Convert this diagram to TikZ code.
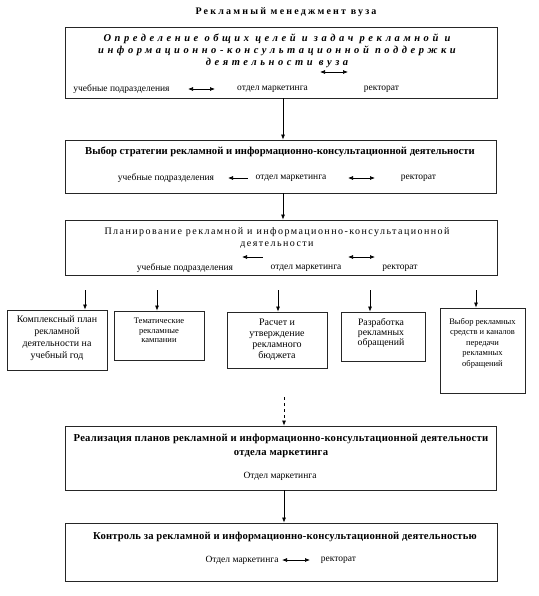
\documentclass[tikz,border=0pt]{standalone}
\usepackage{fontspec}
\setmainfont{Liberation Serif}
\usetikzlibrary{arrows.meta}
\begin{document}
\begin{tikzpicture}[x=1pt,y=-1pt,
  bigbox/.style={draw=black!85,line width=0.8pt,inner sep=0pt},
  smallbox/.style={draw=black!85,line width=0.8pt,inner sep=0pt},
  lbl/.style={inner sep=0pt,font=\fontsize{9.5}{11}\selectfont},
  stxt/.style={inner sep=0pt,align=center,anchor=north},
  btitle/.style={inner sep=0pt,align=center,font=\fontsize{10.65}{14}\selectfont\bfseries},
  arr/.style={-{Latex[length=5pt,width=4pt]},line width=0.7pt},
  darr/.style={{Latex[length=5pt,width=4pt]}-{Latex[length=5pt,width=4pt]},line width=0.7pt},
  larr/.style={{Latex[length=5pt,width=4pt]}-,line width=0.7pt}]
\useasboundingbox (0,0) rectangle (538,596);

% title
\node[inner sep=0pt,font=\fontsize{10}{12}\selectfont\bfseries\addfontfeatures{LetterSpace=22}] (title) at (286,12) {Рекламный менеджмент вуза};

% box 1
\node[bigbox,minimum width=432pt,minimum height=71pt] (b1) at (281,62.5) {};
\node[inner sep=0pt,align=center,font=\fontsize{10.5}{12}\selectfont\bfseries\itshape\addfontfeatures{LetterSpace=34}] (b1t) at (277,51) {Определение общих целей и задач рекламной и\\информационно-консультационной поддержки\\деятельности вуза};
\node[lbl] (b1l1) at (121.5,89) {учебные подразделения};
\node[lbl] (b1l2) at (272.5,89) {отдел маркетинга};
\node[lbl] (b1l3) at (381.5,89) {ректорат};
\coordinate (b1aa) at (320,72); \coordinate (b1ab) at (348,72);
\coordinate (b1ba) at (188,89); \coordinate (b1bb) at (215,89);
\draw[darr] (b1aa) -- (b1ab);
\draw[darr] (b1ba) -- (b1bb);

% box 2
\node[bigbox,minimum width=431pt,minimum height=53pt] (b2) at (280.5,166.5) {};
\node[btitle] (b2t) at (280,152) {Выбор стратегии рекламной и информационно-консультационной деятельности};
\node[lbl] (b2l1) at (166,178) {учебные подразделения};
\node[lbl] (b2l2) at (291,178) {отдел маркетинга};
\node[lbl] (b2l3) at (418.5,178) {ректорат};
\coordinate (b2aa) at (228,178); \coordinate (b2ab) at (248,178);
\coordinate (b2ba) at (348,178); \coordinate (b2bb) at (375,178);
\draw[larr] (b2aa) -- (b2ab);
\draw[darr] (b2ba) -- (b2bb);

% box 3
\node[bigbox,minimum width=432pt,minimum height=55pt] (b3) at (281,247.5) {};
\node[inner sep=0pt,align=center,font=\fontsize{10}{12}\selectfont\addfontfeatures{LetterSpace=14.5}] (b3t) at (277,238) {Планирование рекламной и информационно-консультационной\\деятельности};
\node[lbl] (b3l1) at (185,268) {учебные подразделения};
\node[lbl] (b3l2) at (306,268) {отдел маркетинга};
\node[lbl] (b3l3) at (400,268) {ректорат};
\coordinate (b3aa) at (242,257); \coordinate (b3ab) at (263,257);
\coordinate (b3ba) at (348,257); \coordinate (b3bb) at (375,257);
\draw[larr] (b3aa) -- (b3ab);
\draw[darr] (b3ba) -- (b3bb);

% small boxes
\node[smallbox,minimum width=100pt,minimum height=60pt] (sa) at (57,340) {};
\node[smallbox,minimum width=90pt,minimum height=49pt] (sb) at (159,335.5) {};
\node[smallbox,minimum width=100pt,minimum height=56pt] (sc) at (277,340) {};
\node[smallbox,minimum width=84pt,minimum height=49pt] (sd) at (383,336.5) {};
\node[smallbox,minimum width=85pt,minimum height=85pt] (se) at (482.5,350.5) {};
\node[stxt,font=\fontsize{9.9}{12}\selectfont] (sat) at (57,316) {Комплексный план\\рекламной\\деятельности на\\учебный год};
\node[stxt,font=\fontsize{8.5}{9.5}\selectfont] (sbt) at (159,318) {Тематические\\рекламные\\кампании};
\node[stxt,font=\fontsize{10}{11}\selectfont] (sct) at (277,318.5) {Расчет и\\утверждение\\рекламного\\бюджета};
\node[stxt,font=\fontsize{9.8}{10}\selectfont] (sdt) at (381,318.5) {Разработка\\рекламных\\обращений};
\node[stxt,font=\fontsize{8.5}{10.5}\selectfont] (set) at (482.5,318) {Выбор рекламных\\средств и каналов\\передачи\\рекламных\\обращений};
\coordinate (pa) at (85,290); \coordinate (pb) at (157,290); \coordinate (pc) at (278,290);
\coordinate (pd) at (370,290); \coordinate (pe) at (476,290);
\draw[arr] (pa) -- (pa |- sa.north);
\draw[arr] (pb) -- (pb |- sb.north);
\draw[arr] (pc) -- (pc |- sc.north);
\draw[arr] (pd) -- (pd |- sd.north);
\draw[arr] (pe) -- (pe |- se.north);

% box 4
\node[bigbox,minimum width=431pt,minimum height=64pt] (b4) at (280.5,458) {};
\node[btitle,font=\fontsize{10.65}{14}\selectfont\bfseries\addfontfeatures{LetterSpace=2}] (b4t) at (281,446) {Реализация планов рекламной и информационно-консультационной деятельности\\отдела маркетинга};
\node[lbl] (b4l) at (280,476) {Отдел маркетинга};

% box 5
\node[bigbox,minimum width=432pt,minimum height=58pt] (b5) at (281,552) {};
\node[btitle,font=\fontsize{10.65}{14}\selectfont\bfseries\addfontfeatures{LetterSpace=1.5}] (b5t) at (285,537) {Контроль за рекламной и информационно-консультационной деятельностью};
\node[lbl] (b5l1) at (242,560) {Отдел маркетинга};
\node[lbl] (b5l2) at (338.5,560) {ректорат};
\coordinate (b5aa) at (282,560); \coordinate (b5ab) at (310,560);
\draw[darr] (b5aa) -- (b5ab);

% main arrows
\coordinate (c1) at (283,0);
\draw[arr] (c1 |- b1.south) -- (c1 |- b2.north);
\draw[arr] (c1 |- b2.south) -- (c1 |- b3.north);
\coordinate (dd) at (284,397);
\draw[arr,dashed] (dd) -- (dd |- b4.north);
\draw[arr] (dd |- b4.south) -- (dd |- b5.north);
\end{tikzpicture}
\end{document}
